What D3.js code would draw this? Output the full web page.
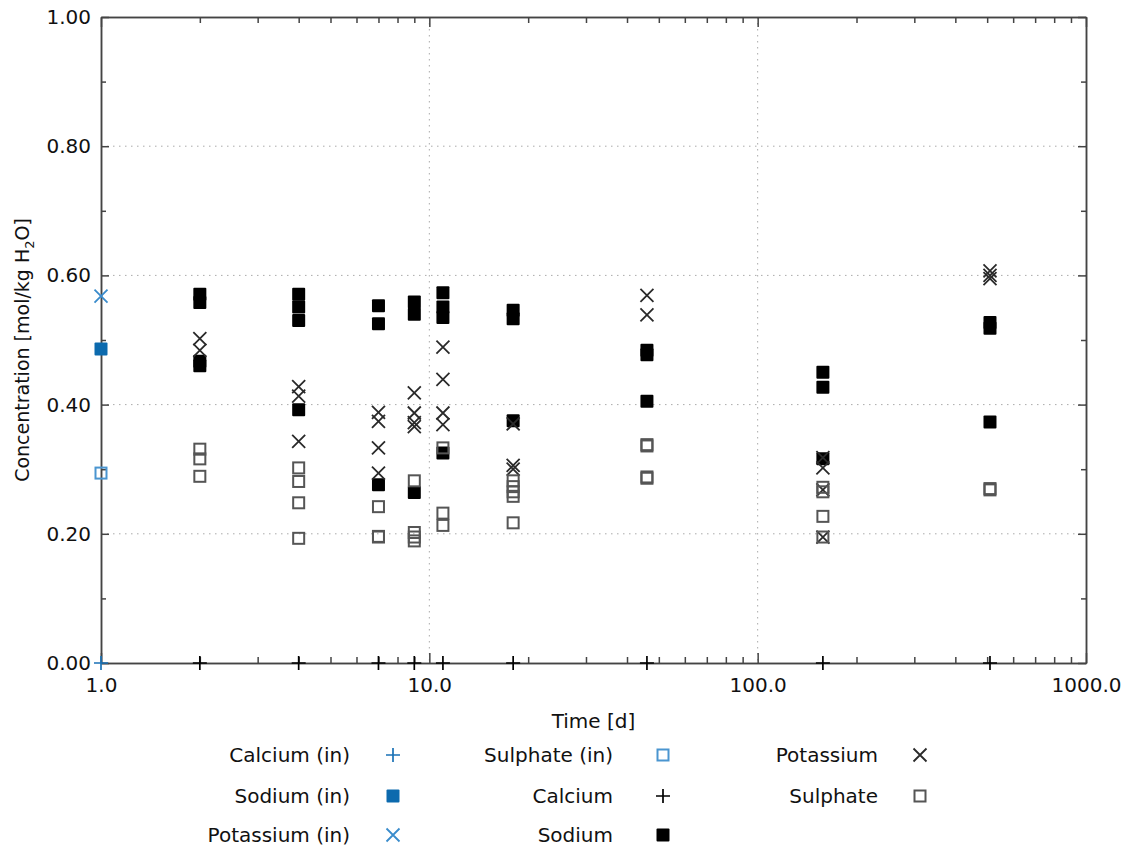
<!DOCTYPE html>
<html>
<head>
<meta charset="utf-8">
<script src="https://cdn.jsdelivr.net/npm/d3@7"></script>
<style>
  body { margin: 0; background: #fff; }
  svg { font-family: "DejaVu Sans", sans-serif; }
  .grid { stroke: #aaa; stroke-width: 1; stroke-dasharray: 1.5,4.5; }
  .axis path, .axis line { stroke: #444; stroke-width: 1.5; }
  .axis text { font-size: 20px; fill: #111; font-family: "DejaVu Sans", sans-serif; }
</style>
</head>
<body>
<svg id="chart" width="1128" height="850"></svg>
<script>
/* Concentration vs time, log x axis */

// inlet values, all at t = 1 d
const inletTime = 1;
const calciumIn = [[inletTime, 0]];
const sodiumIn = [[inletTime, 0.486]];
const potassiumIn = [[inletTime, 0.568]];
const sulphateIn = [[inletTime, 0.294]];

// measured values, [time (d), mol/kg H2O]
const calcium = [[2, 0], [4, 0], [7, 0], [9, 0], [11, 0], [18, 0], [46, 0], [158, 0], [510, 0]];

const sodium = [
  [2, 0.571], [2, 0.558], [2, 0.467], [2, 0.460],
  [4, 0.571], [4, 0.551], [4, 0.530], [4, 0.392],
  [7, 0.553], [7, 0.525], [7, 0.276],
  [9, 0.559], [9, 0.540], [9, 0.264],
  [11, 0.573], [11, 0.551], [11, 0.535], [11, 0.325],
  [18, 0.546], [18, 0.533], [18, 0.375],
  [46, 0.484], [46, 0.477], [46, 0.405],
  [158, 0.450], [158, 0.427], [158, 0.316],
  [510, 0.527], [510, 0.518], [510, 0.373]
];

const potassium = [
  [2, 0.502], [2, 0.484],
  [4, 0.428], [4, 0.413], [4, 0.343],
  [7, 0.388], [7, 0.374], [7, 0.333], [7, 0.294],
  [9, 0.418], [9, 0.387], [9, 0.372], [9, 0.366],
  [11, 0.489], [11, 0.439], [11, 0.387], [11, 0.369],
  [18, 0.370], [18, 0.306], [18, 0.300],
  [46, 0.569], [46, 0.539],
  [158, 0.318], [158, 0.302], [158, 0.268], [158, 0.195],
  [510, 0.607], [510, 0.600], [510, 0.595]
];

const sulphate = [
  [2, 0.331], [2, 0.316], [2, 0.289],
  [4, 0.302], [4, 0.281], [4, 0.248], [4, 0.193],
  [7, 0.242], [7, 0.196], [7, 0.195],
  [9, 0.282], [9, 0.202], [9, 0.195], [9, 0.189],
  [11, 0.333], [11, 0.232], [11, 0.213],
  [18, 0.282], [18, 0.273], [18, 0.265], [18, 0.258], [18, 0.217],
  [46, 0.338], [46, 0.336], [46, 0.288], [46, 0.286],
  [158, 0.272], [158, 0.265], [158, 0.227], [158, 0.195],
  [510, 0.270], [510, 0.268]
];

const yTicks = [0, 0.2, 0.4, 0.6, 0.8, 1.0];
const yMinor = [0.1, 0.3, 0.5, 0.7, 0.9];
const xTicks = [1, 10, 100, 1000];
const xMinor = [2, 3, 4, 5, 6, 7, 8, 9, 20, 30, 40, 50, 60, 70, 80, 90,
                200, 300, 400, 500, 600, 700, 800, 900];

const blue = "#1a72b6";
const series = [
  {name: "Calcium (in)",   data: calciumIn,   shape: "plus",   color: blue},
  {name: "Sodium (in)",    data: sodiumIn,    shape: "fill",   color: "#0c6aae"},
  {name: "Potassium (in)", data: potassiumIn, shape: "cross",  color: "#3a8ccc"},
  {name: "Sulphate (in)",  data: sulphateIn,  shape: "open",   color: "#4a95d0"},
  {name: "Calcium",        data: calcium,     shape: "plus",   color: "#000"},
  {name: "Sodium",         data: sodium,      shape: "fill",   color: "#000"},
  {name: "Potassium",      data: potassium,   shape: "cross",  color: "#2a2a2a"},
  {name: "Sulphate",       data: sulphate,    shape: "open",   color: "#555"}
];

const plot = {left: 101, right: 1086, top: 17, bottom: 663};

const svg = d3.select("#chart");
const x = d3.scaleLog().domain([1, 1000]).range([plot.left, plot.right]);
const y = d3.scaleLinear().domain([0, 1]).range([plot.bottom, plot.top]);

// grid
svg.append("g").selectAll("line.gy")
  .data(yTicks.filter(d => d > 0 && d < 1)).enter()
  .append("line").attr("class", "grid")
  .attr("x1", plot.left).attr("x2", plot.right)
  .attr("y1", d => y(d)).attr("y2", d => y(d));
svg.append("g").selectAll("line.gx")
  .data(xTicks.filter(d => d > 1 && d < 1000)).enter()
  .append("line").attr("class", "grid")
  .attr("y1", plot.top).attr("y2", plot.bottom)
  .attr("x1", d => x(d)).attr("x2", d => x(d));

// axes (ticks point inward)
svg.append("g").attr("class", "axis")
  .attr("transform", `translate(${plot.left},0)`)
  .call(d3.axisLeft(y).tickValues(yTicks).tickSize(-8).tickSizeOuter(0)
    .tickPadding(10).tickFormat(d3.format(".2f")));
svg.append("g").attr("class", "axis")
  .attr("transform", `translate(${plot.left},0)`)
  .call(d3.axisLeft(y).tickValues(yMinor).tickSize(-5).tickSizeOuter(0).tickFormat(""));
svg.append("g").attr("class", "axis")
  .attr("transform", `translate(${plot.right},0)`)
  .call(d3.axisRight(y).tickValues(yTicks).tickSize(-8).tickSizeOuter(0).tickFormat(""));
svg.append("g").attr("class", "axis")
  .attr("transform", `translate(${plot.right},0)`)
  .call(d3.axisRight(y).tickValues(yMinor).tickSize(-5).tickSizeOuter(0).tickFormat(""));

svg.append("g").attr("class", "axis")
  .attr("transform", `translate(0,${plot.bottom})`)
  .call(d3.axisBottom(x).tickValues(xTicks).tickSize(-10).tickSizeOuter(0)
    .tickPadding(15).tickFormat(d3.format(".1f")));
svg.append("g").attr("class", "axis")
  .attr("transform", `translate(0,${plot.bottom})`)
  .call(d3.axisBottom(x).tickValues(xMinor).tickSize(-6).tickSizeOuter(0).tickFormat(""));
svg.append("g").attr("class", "axis")
  .attr("transform", `translate(0,${plot.top})`)
  .call(d3.axisTop(x).tickValues(xTicks).tickSize(-10).tickSizeOuter(0).tickFormat(""));
svg.append("g").attr("class", "axis")
  .attr("transform", `translate(0,${plot.top})`)
  .call(d3.axisTop(x).tickValues(xMinor).tickSize(-6).tickSizeOuter(0).tickFormat(""));

// axis titles
svg.append("text")
  .attr("x", (plot.left + plot.right) / 2).attr("y", 728)
  .attr("text-anchor", "middle").attr("font-size", 20).attr("fill", "#111")
  .text("Time [d]");

const yTitle = svg.append("text")
  .attr("transform", `translate(29,${(plot.top + plot.bottom) / 2 + 10}) rotate(-90)`)
  .attr("text-anchor", "middle").attr("font-size", 19).attr("fill", "#111");
yTitle.append("tspan").text("Concentration [mol/kg H");
yTitle.append("tspan").attr("font-size", 13).attr("dy", 5).text("2");
yTitle.append("tspan").attr("dy", -5).text("O]");

// markers
function marker(sel, shape, color) {
  if (shape === "plus") {
    sel.append("path").attr("d", "M-7,0H7M0,-7V7")
      .attr("stroke", color).attr("stroke-width", 1.7).attr("fill", "none");
  } else if (shape === "cross") {
    sel.append("path").attr("d", "M-6.5,-6.5L6.5,6.5M-6.5,6.5L6.5,-6.5")
      .attr("stroke", color).attr("stroke-width", 1.8).attr("fill", "none");
  } else if (shape === "fill") {
    sel.append("rect").attr("x", -6.5).attr("y", -6.5)
      .attr("width", 13).attr("height", 13).attr("rx", 1).attr("fill", color);
  } else {
    sel.append("rect").attr("x", -5.5).attr("y", -5.5)
      .attr("width", 11).attr("height", 11)
      .attr("stroke", color).attr("stroke-width", 2).attr("fill", "none");
  }
}

series.forEach(s => {
  svg.append("g").selectAll("g")
    .data(s.data).enter()
    .append("g")
    .attr("transform", d => `translate(${x(d[0])},${y(d[1])})`)
    .each(function() { marker(d3.select(this), s.shape, s.color); });
});

// legend: three columns, filled top to bottom
const legCols = [{label: 350, mark: 393}, {label: 613, mark: 663}, {label: 878, mark: 920}];
const legRows = [755, 796, 835];
series.forEach((s, i) => {
  const c = legCols[Math.floor(i / 3)];
  const r = legRows[i % 3];
  svg.append("text")
    .attr("x", c.label).attr("y", r).attr("dy", "0.35em")
    .attr("text-anchor", "end").attr("font-size", 20).attr("fill", "#111")
    .text(s.name);
  const g = svg.append("g").attr("transform", `translate(${c.mark},${r})`);
  marker(g, s.shape, s.color);
});
</script>
</body>
</html>
